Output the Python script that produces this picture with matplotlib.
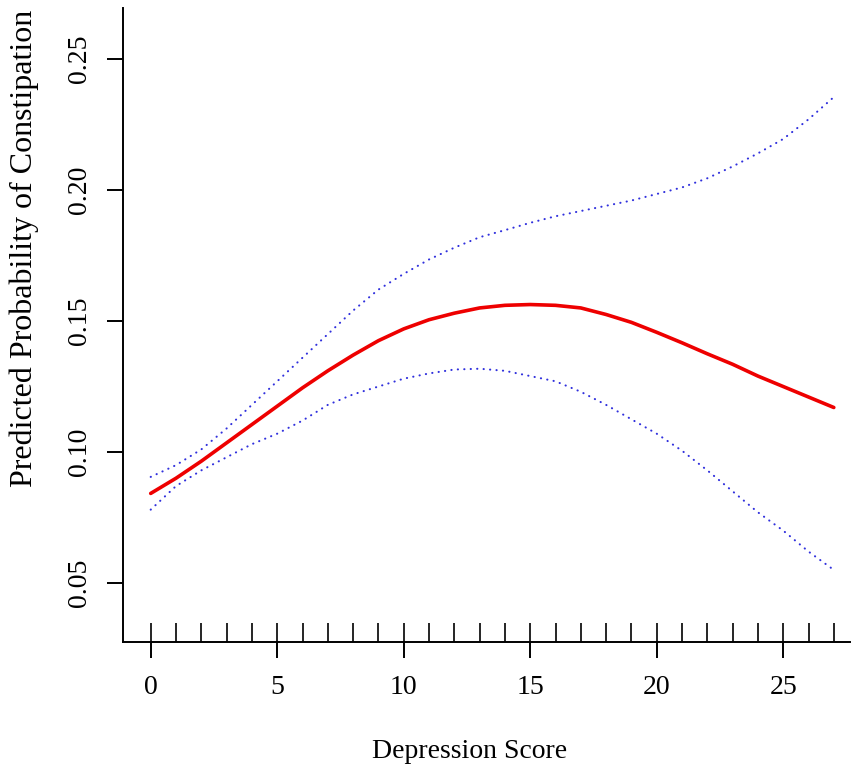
import matplotlib
matplotlib.use("Agg")
import matplotlib.pyplot as plt

# ---- data ----
score = [0, 1, 2, 3, 4, 5, 6, 7, 8, 9, 10, 11, 12, 13, 14, 15, 16, 17, 18, 19,
         20, 21, 22, 23, 24, 25, 26, 27]
pred = [0.0842, 0.0900, 0.0965, 0.1035, 0.1105, 0.1175, 0.1245, 0.1310, 0.1370,
        0.1425, 0.1470, 0.1505, 0.1530, 0.1550, 0.1560, 0.1563, 0.1560, 0.1550,
        0.1525, 0.1495, 0.1457, 0.1417, 0.1375, 0.1335, 0.1290, 0.1250, 0.1210,
        0.1170]
upper = [0.0905, 0.0950, 0.1010, 0.1090, 0.1180, 0.1270, 0.1360, 0.1450, 0.1540,
         0.1620, 0.1680, 0.1735, 0.1780, 0.1820, 0.1847, 0.1875, 0.1900, 0.1920,
         0.1940, 0.1960, 0.1985, 0.2010, 0.2045, 0.2090, 0.2140, 0.2195, 0.2270,
         0.2355]
lower = [0.0780, 0.0870, 0.0930, 0.0980, 0.1030, 0.1070, 0.1120, 0.1180, 0.1220,
         0.1250, 0.1280, 0.1300, 0.1315, 0.1318, 0.1310, 0.1290, 0.1270, 0.1230,
         0.1180, 0.1125, 0.1070, 0.1005, 0.0930, 0.0850, 0.0770, 0.0700, 0.0620,
         0.0550]
rug_scores = [0, 1, 2, 3, 4, 5, 6, 7, 8, 9, 10, 11, 12, 13, 14, 15, 16, 17, 18,
              19, 20, 21, 22, 23, 24, 25, 26, 27]
xticks = [0, 5, 10, 15, 20, 25]
yticks = [0.05, 0.10, 0.15, 0.20, 0.25]
ytick_labels = ["0.05", "0.10", "0.15", "0.20", "0.25"]
xlabel = "Depression Score"
ylabel = "Predicted Probability of Constipation"

W, H = 851, 773
plt.rcParams['font.family'] = ['Liberation Serif', 'DejaVu Serif']

fig = plt.figure(figsize=(W / 100, H / 100), dpi=100)
left_px, right_px, top_px, bottom_px = 123, 850, 8, 642
ax = fig.add_axes([left_px / W, 1 - bottom_px / H,
                   (right_px - left_px) / W, (bottom_px - top_px) / H])

ci_color = '#3030dd'
ax.plot(score, upper, color=ci_color, lw=1.5, linestyle=(0, (0.1, 3.0)),
        dash_capstyle='round')
ax.plot(score, lower, color=ci_color, lw=1.5, linestyle=(0, (0.1, 3.0)),
        dash_capstyle='round')
ax.plot(score, pred, color='#ee0000', lw=2.6, solid_capstyle='round')

# rug
ax.vlines(rug_scores, 0, 19 / (bottom_px - top_px), color='black', lw=1.2,
          transform=ax.get_xaxis_transform())

ax.set_xlim(-1.095, 27.64)
ax.set_ylim(0.02748, 0.2695)

ax.spines['top'].set_visible(False)
ax.spines['right'].set_visible(False)
for s in ['left', 'bottom']:
    ax.spines[s].set_linewidth(1.4)

ax.set_xticks(xticks)
ax.set_xticklabels([str(v) for v in xticks])
ax.set_yticks(yticks)
ax.set_yticklabels(ytick_labels, rotation=90, va='center')
ax.tick_params(axis='both', direction='out', length=11.5, width=1.4,
               labelsize=20, pad=12)
ax.tick_params(axis='y', pad=11)

fig.text(470 / W, 1 - 752 / H, xlabel, fontsize=20, ha='center', va='center')
fig.text(24 / W, 1 - 248 / H, ylabel, fontsize=23, rotation=90,
         ha='center', va='center')

fig.savefig('out.png', dpi=100)
